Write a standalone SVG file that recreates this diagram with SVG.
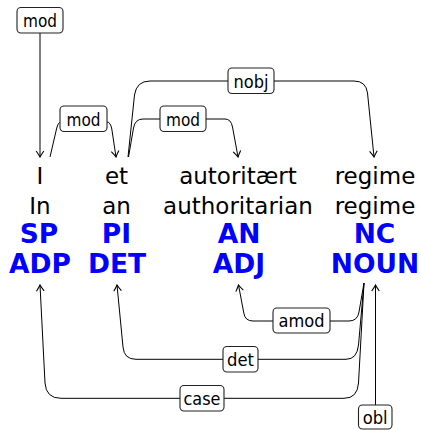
<svg xmlns="http://www.w3.org/2000/svg" width="421" height="430" viewBox="0 0 421 430">
<style>
.w{font-family:"DejaVu Sans",sans-serif;font-size:23px;fill:#000;text-anchor:middle}
.p{font-family:"DejaVu Sans",sans-serif;font-weight:bold;font-size:26.5px;fill:#0000ff;text-anchor:middle}
.e{fill:none;stroke:#000;stroke-width:1}
.b{fill:#fff;stroke:#222;stroke-width:1.1}
.l{font-family:"DejaVu Sans",sans-serif;font-size:18px;fill:#000;text-anchor:middle}
</style>
<defs>
<marker id="arr" viewBox="-8 -5 9 10" markerWidth="9" markerHeight="10" refX="0" refY="0" orient="auto" markerUnits="userSpaceOnUse">
<path d="M-6,-3.8 Q-2,-1 0,0 Q-2,1 -6,3.8" fill="none" stroke="#000" stroke-width="1.1"/>
</marker>
</defs>
<rect width="421" height="430" fill="#fff"/>
<g id="tok1">
<text class="w" x="40" y="184">I</text>
<text class="w" x="40" y="214">In</text>
<text class="p" x="39" y="243">SP</text>
<text class="p" x="40" y="273">ADP</text>
</g>
<g id="tok2">
<text class="w" x="116.5" y="184">et</text>
<text class="w" x="116.5" y="214">an</text>
<text class="p" x="116.5" y="243">PI</text>
<text class="p" x="117" y="273">DET</text>
</g>
<g id="tok3">
<text class="w" x="238" y="184">autoritært</text>
<text class="w" x="238" y="214">authoritarian</text>
<text class="p" x="239" y="243">AN</text>
<text class="p" x="239" y="273">ADJ</text>
</g>
<g id="tok4">
<text class="w" x="375" y="184">regime</text>
<text class="w" x="375" y="214">regime</text>
<text class="p" x="374.5" y="243">NC</text>
<text class="p" x="375" y="273">NOUN</text>
</g>
<g id="connectors">
<g id="e-root-mod">
<path class="e" d="M40,33 L40,157" marker-end="url(#arr)"/>
<rect class="b" x="17" y="7.5" width="46" height="25.5" rx="4"/>
<text class="l" x="40" y="27" textLength="34" lengthAdjust="spacingAndGlyphs">mod</text>
</g>
<g id="e-mod1">
<path class="e" d="M50,157 L56.5,129 Q58,122 61,122"/>
<path class="e" d="M107,122 Q110.5,122 111.8,129 L116,157" marker-end="url(#arr)"/>
<rect class="b" x="60" y="106" width="47" height="25.5" rx="4"/>
<text class="l" x="83.5" y="125.5" textLength="34" lengthAdjust="spacingAndGlyphs">mod</text>
</g>
<g id="e-mod2">
<path class="e" d="M128.5,157 L133.5,128 Q135,119 143,119 L160,119"/>
<path class="e" d="M206,119 L225,119 Q231,119 232.5,127 L238,157" marker-end="url(#arr)"/>
<rect class="b" x="160" y="106" width="46" height="25.5" rx="4"/>
<text class="l" x="183" y="125.5" textLength="34" lengthAdjust="spacingAndGlyphs">mod</text>
</g>
<g id="e-nobj">
<path class="e" d="M128,157 L134.5,95 Q136.5,81 150,81 L228,81"/>
<path class="e" d="M274,81 L354,81 Q366,81 367.5,93 L374,157" marker-end="url(#arr)"/>
<rect class="b" x="228" y="68" width="46" height="25.5" rx="4"/>
<text class="l" x="251" y="87.5" textLength="35" lengthAdjust="spacingAndGlyphs">nobj</text>
</g>
<g id="e-amod">
<path class="e" d="M364,283 L359,312 Q357.5,321 349,321 L330,321"/>
<path class="e" d="M273,321 L253,321 Q245,321 243.8,313 L238.5,285" marker-end="url(#arr)"/>
<rect class="b" x="273" y="308" width="57" height="25" rx="4"/>
<text class="l" x="301.5" y="327.3" textLength="46" lengthAdjust="spacingAndGlyphs">amod</text>
</g>
<g id="e-det">
<path class="e" d="M364,283 L358.5,345 Q357,359.3 346,359.3 L258,359.3"/>
<path class="e" d="M223,359.3 L136,359.3 Q124,359.3 123,347 L117,285" marker-end="url(#arr)"/>
<rect class="b" x="223" y="346.5" width="35" height="25.5" rx="4"/>
<text class="l" x="240.5" y="366" textLength="27" lengthAdjust="spacingAndGlyphs">det</text>
</g>
<g id="e-case">
<path class="e" d="M364,283 L358.5,383 Q357.5,398.3 344,398.3 L224,398.3"/>
<path class="e" d="M180,398.3 L61,398.3 Q46,398.3 45,383 L40,285" marker-end="url(#arr)"/>
<rect class="b" x="180" y="385.5" width="44" height="25.5" rx="4"/>
<text class="l" x="202" y="405" textLength="37" lengthAdjust="spacingAndGlyphs">case</text>
</g>
<g id="e-obl">
<path class="e" d="M375.5,405 L375.5,285" marker-end="url(#arr)"/>
<rect class="b" x="358.5" y="405" width="33.5" height="24" rx="4"/>
<text class="l" x="375.2" y="424" textLength="25" lengthAdjust="spacingAndGlyphs">obl</text>
</g>
</g>
</svg>
